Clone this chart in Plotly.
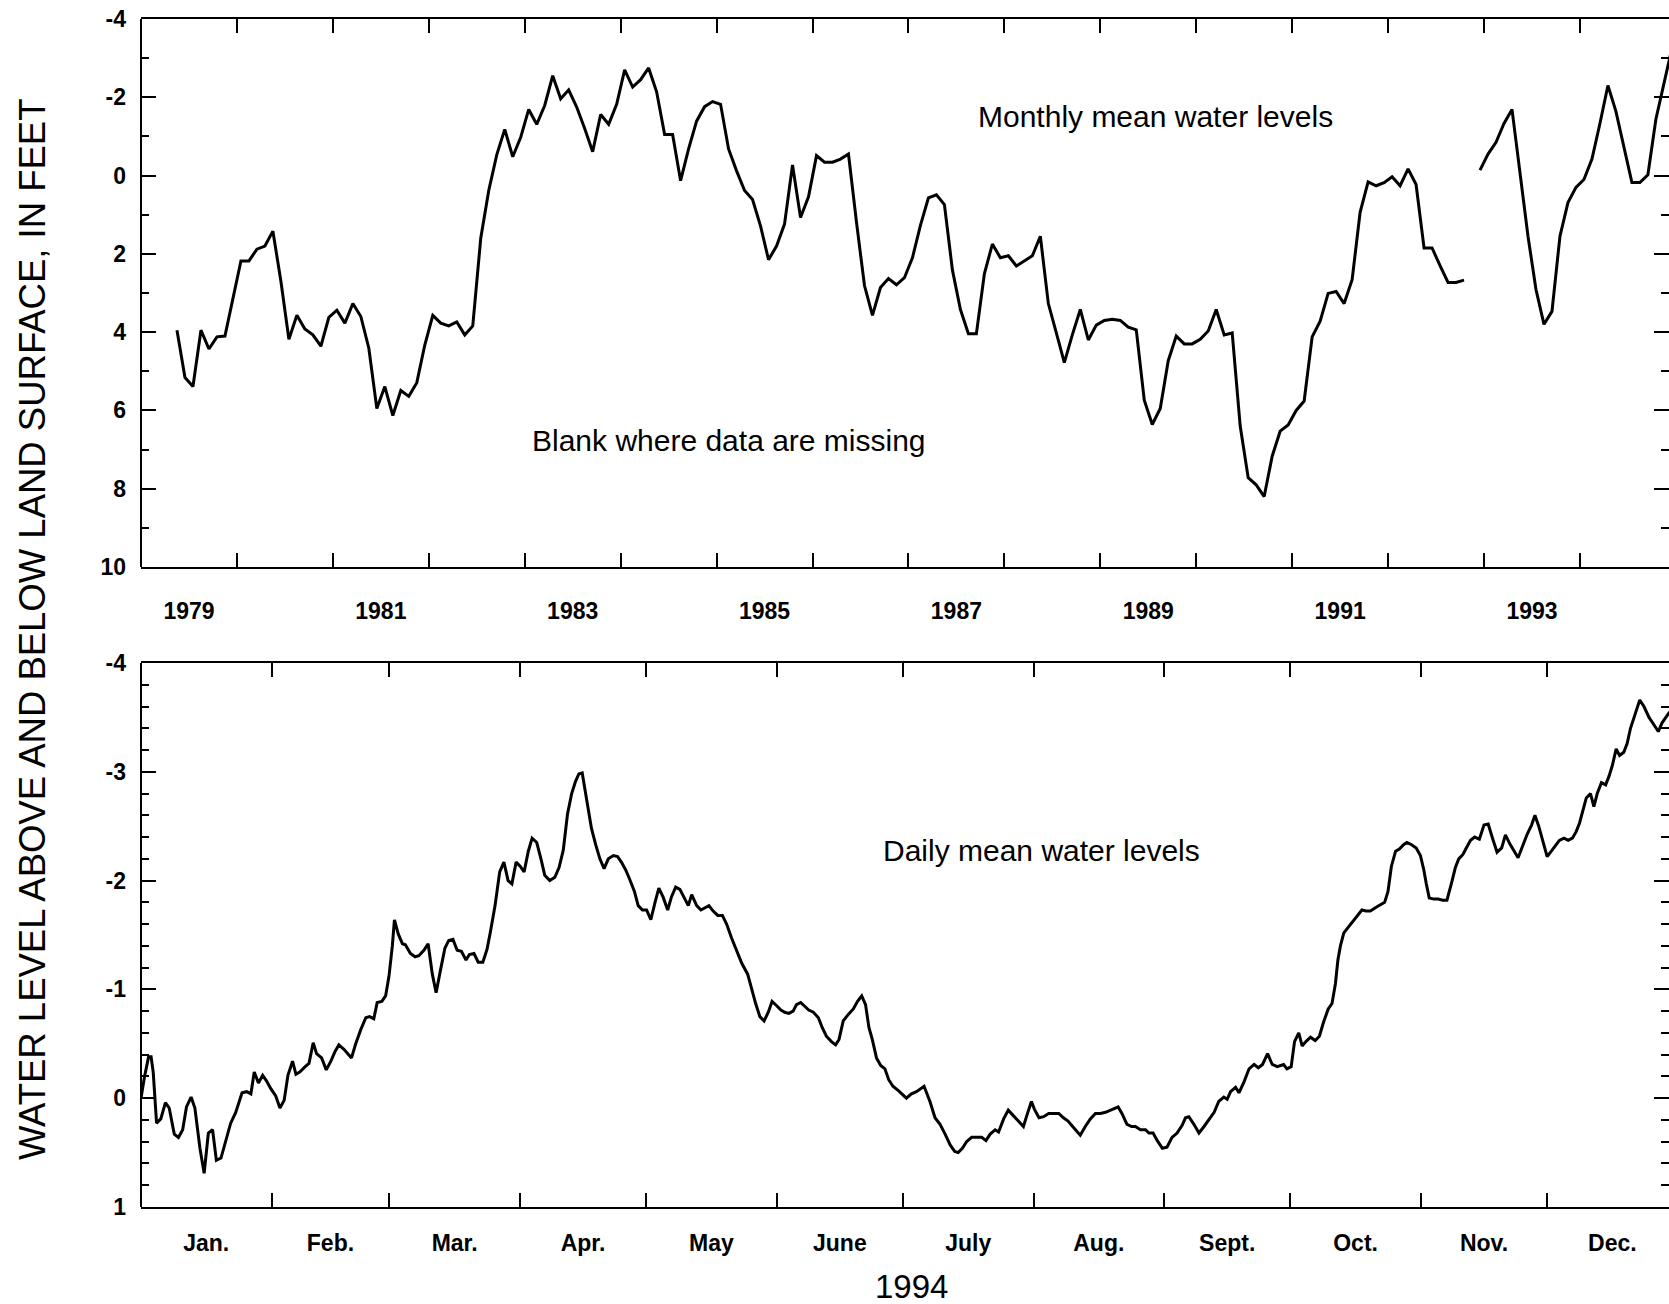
import numpy as np
import pandas as pd
import plotly.graph_objects as go

# ---------------------------------------------------------------------------
# Monthly mean water level, feet below (+) / above (-) land surface, 1979-1994
# One row per year, January..December; None where no record exists.
# ---------------------------------------------------------------------------
first_year = 1979
monthly_level = [
    None, None, None, None, 3.95, 5.16, 5.39, 3.95, 4.43, 4.12, 4.10, 3.10,        # 1979
    2.18, 2.18, 1.88, 1.80, 1.42, 2.70, 4.18, 3.57, 3.92, 4.07, 4.36, 3.62,        # 1980
    3.44, 3.77, 3.27, 3.60, 4.41, 5.95, 5.39, 6.13, 5.49, 5.64, 5.29, 4.33,        # 1981
    3.57, 3.77, 3.84, 3.74, 4.07, 3.84, 1.60, 0.38, -0.53, -1.18, -0.48, -0.98,    # 1982
    -1.69, -1.31, -1.79, -2.55, -1.96, -2.19, -1.75, -1.20, -0.61, -1.56, -1.31, -1.82,  # 1983
    -2.70, -2.26, -2.45, -2.75, -2.14, -1.05, -1.05, 0.13, -0.68, -1.39, -1.76, -1.89,   # 1984
    -1.82, -0.68, -0.12, 0.38, 0.61, 1.29, 2.15, 1.80, 1.24, -0.27, 1.07, 0.54,    # 1985
    -0.51, -0.34, -0.34, -0.42, -0.55, 1.19, 2.81, 3.57, 2.86, 2.63, 2.79, 2.61,   # 1986
    2.10, 1.27, 0.57, 0.49, 0.74, 2.41, 3.42, 4.04, 4.04, 2.51, 1.75, 2.10,        # 1987
    2.05, 2.31, 2.18, 2.05, 1.55, 3.27, 4.02, 4.78, 4.07, 3.42, 4.20, 3.82,        # 1988
    3.70, 3.67, 3.70, 3.87, 3.94, 5.74, 6.36, 5.95, 4.73, 4.10, 4.30, 4.30,        # 1989
    4.18, 3.97, 3.42, 4.07, 4.02, 6.40, 7.72, 7.90, 8.20, 7.17, 6.53, 6.37,        # 1990
    6.00, 5.76, 4.12, 3.72, 3.01, 2.96, 3.27, 2.66, 0.94, 0.16, 0.26, 0.18,        # 1991
    0.03, 0.26, -0.17, 0.23, 1.85, 1.85, 2.30, 2.73, 2.73, 2.67, None, -0.14,      # 1992
    -0.55, -0.85, -1.33, -1.69, -0.12, 1.55, 2.91, 3.80, 3.47, 1.55, 0.69, 0.30,   # 1993
    0.10, -0.42, -1.33, -2.30, -1.64, -0.73, 0.18, 0.18, -0.02, -1.44, -2.33, -3.25,  # 1994
]

# ---------------------------------------------------------------------------
# Daily mean water level during 1994 (day of year, feet)
# ---------------------------------------------------------------------------
daily_day = [
    0.5, 1.3, 2.3, 2.9, 3.4, 4.2, 5.2, 6.3, 7.2, 8.4, 9.4, 10.4, 11.3, 12.4, 13.3,
    14.5, 15.5, 16.5, 17.5, 18.4, 19.5, 20.7, 21.8, 23.0, 24.5, 25.6, 26.6, 27.4,
    28.4, 29.4, 30.3, 31.3, 32.5, 33.5, 34.5, 35.4, 36.5, 37.3, 38.2, 39.5, 40.4,
    41.4, 42.2, 43.4, 44.5, 45.6, 46.6, 47.5, 48.7, 50.5, 51.5, 52.7, 53.9, 54.8,
    55.8, 56.6, 57.7, 58.6, 59.4, 60.2, 60.7, 61.6, 62.6, 63.3, 64.5, 65.6, 66.5,
    67.7, 68.7, 69.7, 70.6, 71.6, 72.7, 73.6, 74.6, 75.6, 76.6, 77.7, 78.5, 79.6,
    80.6, 81.7, 82.7, 83.5, 84.6, 85.7, 86.7, 87.7, 88.6, 89.6, 90.6, 91.5, 92.5,
    93.4, 94.5, 95.5, 96.4, 97.6, 98.8, 99.8, 100.8, 101.8, 102.8, 103.7, 104.5,
    105.3, 105.9, 106.7, 107.5, 108.5, 109.5, 110.5, 111.5, 112.7, 113.7, 114.6,
    115.6, 116.6, 117.7, 118.6, 119.6, 120.6, 121.6, 122.6, 123.5, 124.5, 125.6,
    126.5, 127.5, 128.5, 129.5, 130.5, 131.3, 132.5, 133.5, 134.4, 135.4, 136.4,
    137.5, 138.6, 139.6, 140.8, 142.0, 143.2, 144.6, 145.5, 146.5, 147.5, 148.5,
    149.5, 150.4, 151.5, 152.5, 153.4, 154.4, 155.4, 156.2, 157.2, 158.2, 159.1,
    160.2, 161.4, 162.3, 163.3, 164.5, 165.5, 166.3, 167.3, 168.5, 169.7, 170.7,
    171.7, 172.6, 173.4, 174.2, 175.2, 176.2, 177.2, 178.1, 179.1, 180.4, 181.3,
    182.3, 183.5, 184.7, 186.5, 187.9, 189.1, 190.3, 191.5, 192.7, 193.8, 194.6,
    195.6, 196.6, 197.8, 199.0, 200.2, 201.2, 202.2, 203.4, 204.2, 205.4, 206.5,
    207.7, 208.9, 210.1, 210.9, 212.0, 212.7, 213.8, 214.9, 216.1, 217.3, 218.5,
    219.6, 220.7, 221.8, 222.8, 223.6, 224.8, 226.0, 227.2, 228.4, 229.6, 230.8,
    232.0, 232.6, 233.5, 234.7, 235.8, 236.7, 237.9, 239.1, 239.9, 240.9, 241.9,
    243.1, 244.2, 245.4, 246.6, 247.8, 248.6, 249.4, 250.6, 251.8, 253.0, 254.2,
    255.4, 256.5, 257.7, 258.5, 259.3, 260.5, 261.3, 262.5, 263.7, 264.9, 265.9,
    266.9, 268.1, 269.2, 270.4, 271.9, 272.7, 273.7, 274.5, 275.5, 276.3, 277.2,
    278.3, 279.4, 280.4, 281.4, 282.5, 283.4, 284.2, 284.8, 285.4, 286.2, 287.0,
    288.2, 289.3, 290.5, 291.5, 292.5, 293.7, 294.7, 295.9, 296.7, 297.5, 298.5,
    299.4, 300.4, 301.2, 302.3, 303.4, 304.4, 305.2, 305.8, 306.5, 307.6, 308.6,
    309.7, 310.7, 311.8, 312.7, 313.5, 314.5, 315.3, 316.3, 317.3, 318.4, 319.5,
    320.5, 321.6, 322.6, 323.7, 324.6, 325.6, 326.6, 327.6, 328.7, 329.8, 330.8,
    331.6, 332.5, 333.5, 334.5, 335.5, 336.5, 337.4, 338.5, 339.5, 340.5, 341.4,
    342.2, 343.0, 343.8, 344.8, 345.6, 346.4, 347.4, 348.4, 349.2, 350.0, 350.9,
    351.7, 352.7, 353.5, 354.3, 355.4, 356.5, 357.5, 358.7, 359.9, 360.9, 361.8,
    362.8, 363.6,
]
daily_level = [
    0.00, -0.19, -0.38, -0.38, -0.24, 0.23, 0.19, 0.04, 0.09, 0.33, 0.36, 0.29, 0.08, -0.01, 0.09,
    0.46, 0.69, 0.32, 0.29, 0.57, 0.55, 0.38, 0.23, 0.13, -0.05, -0.06, -0.04, -0.24,
    -0.14, -0.21, -0.16, -0.09, -0.02, 0.09, 0.02, -0.21, -0.34, -0.22, -0.24, -0.29, -0.32,
    -0.51, -0.41, -0.37, -0.26, -0.34, -0.43, -0.49, -0.45, -0.37, -0.50, -0.63, -0.74, -0.75,
    -0.73, -0.88, -0.89, -0.94, -1.12, -1.40, -1.64, -1.51, -1.42, -1.41, -1.33, -1.30, -1.31,
    -1.36, -1.42, -1.14, -0.97, -1.17, -1.38, -1.45, -1.46, -1.36, -1.35, -1.27, -1.32, -1.33,
    -1.25, -1.25, -1.37, -1.53, -1.77, -2.08, -2.17, -2.00, -1.97, -2.17, -2.13, -2.08, -2.27,
    -2.39, -2.35, -2.20, -2.05, -2.00, -2.03, -2.12, -2.28, -2.61, -2.80, -2.91, -2.98,
    -2.99, -2.86, -2.66, -2.48, -2.33, -2.20, -2.11, -2.20, -2.23, -2.22, -2.17,
    -2.10, -2.01, -1.90, -1.77, -1.73, -1.73, -1.64, -1.80, -1.93, -1.85, -1.73,
    -1.85, -1.94, -1.92, -1.85, -1.77, -1.87, -1.77, -1.73, -1.75, -1.77, -1.72,
    -1.68, -1.68, -1.60, -1.47, -1.35, -1.24, -1.14, -1.00, -0.87, -0.75, -0.71,
    -0.79, -0.89, -0.85, -0.81, -0.79, -0.78, -0.80, -0.86, -0.88, -0.84, -0.81,
    -0.79, -0.74, -0.65, -0.57, -0.52, -0.49, -0.54, -0.71, -0.77, -0.82, -0.89,
    -0.94, -0.86, -0.65, -0.54, -0.37, -0.30, -0.27, -0.17, -0.11, -0.07, -0.04,
    0.00, -0.04, -0.06, -0.11, 0.03, 0.18, 0.24, 0.33, 0.43, 0.49, 0.50,
    0.46, 0.40, 0.36, 0.36, 0.36, 0.39, 0.33, 0.29, 0.31, 0.19, 0.11,
    0.16, 0.21, 0.26, 0.16, 0.03, 0.10, 0.18, 0.17, 0.14, 0.14, 0.14,
    0.18, 0.21, 0.26, 0.31, 0.34, 0.26, 0.19, 0.14, 0.14, 0.13, 0.11,
    0.09, 0.08, 0.14, 0.24, 0.26, 0.26, 0.29, 0.29, 0.32, 0.32, 0.39,
    0.46, 0.45, 0.36, 0.32, 0.25, 0.18, 0.17, 0.24, 0.32, 0.26, 0.20,
    0.13, 0.03, -0.01, 0.01, -0.06, -0.10, -0.05, -0.15, -0.27, -0.31, -0.28,
    -0.31, -0.41, -0.31, -0.29, -0.31, -0.27, -0.29, -0.52, -0.60, -0.48, -0.52,
    -0.56, -0.53, -0.57, -0.70, -0.82, -0.87, -1.05, -1.27, -1.40, -1.52, -1.56,
    -1.61, -1.67, -1.73, -1.72, -1.72, -1.75, -1.77, -1.80, -1.90, -2.13, -2.27,
    -2.29, -2.33, -2.35, -2.33, -2.30, -2.23, -2.10, -1.97, -1.84, -1.83, -1.83,
    -1.82, -1.82, -1.98, -2.12, -2.20, -2.24, -2.30, -2.37, -2.40, -2.38, -2.51,
    -2.52, -2.38, -2.26, -2.30, -2.42, -2.34, -2.28, -2.21, -2.32, -2.43, -2.51,
    -2.60, -2.50, -2.36, -2.22, -2.27, -2.32, -2.37, -2.39, -2.37, -2.39, -2.45,
    -2.53, -2.66, -2.76, -2.80, -2.68, -2.80, -2.90, -2.88, -2.96, -3.06, -3.21,
    -3.15, -3.18, -3.26, -3.40, -3.53, -3.66, -3.60, -3.50, -3.43, -3.37, -3.45,
    -3.51, -3.55,
]

# Axis tick labels
year_labels = ["1979", "1981", "1983", "1985", "1987", "1989", "1991", "1993"]
month_labels = ["Jan.", "Feb.", "Mar.", "Apr.", "May", "June",
                "July", "Aug.", "Sept.", "Oct.", "Nov.", "Dec."]
top_y_ticks = [-4, -2, 0, 2, 4, 6, 8, 10]
bottom_y_ticks = [-4, -3, -2, -1, 0, 1]

# ---------------------------------------------------------------------------
# Page geometry (pixels)
# ---------------------------------------------------------------------------
W, H = 1669, 1304
LEFT = 141
PLOT_W = W - LEFT
PX_PER_YEAR = 95.93
PX_PER_DAY = 4.21
TOP_PANEL = (19, 567)      # top edge, bottom edge
BOT_PANEL = (663, 1207)


def ydom(panel):
    return [1 - panel[1] / H, 1 - panel[0] / H]


def px_x(px):
    return (px - LEFT) / PLOT_W


def px_y(py):
    return 1 - py / H


# monthly positions: middle of each month, in decimal years
n_months = len(monthly_level)
month_x = [first_year + (i + 0.5) / 12 for i in range(n_months)]

# daily positions: day n is centred on Jan 1 + (n - 0.5) days
jan1 = pd.Timestamp("1994-01-01")
daily_x = jan1 + pd.to_timedelta(np.array(daily_day) - 0.5, unit="D")

month_starts = pd.date_range("1994-01-01", periods=13, freq="MS")
month_mids = [month_starts[i] + (month_starts[i + 1] - month_starts[i]) / 2 for i in range(12)]

top_x_end = first_year + PLOT_W / PX_PER_YEAR
bot_x_end = jan1 + pd.to_timedelta(PLOT_W / PX_PER_DAY, unit="D")

FONT = "Liberation Sans, Arial, Helvetica, sans-serif"
tick_font = dict(family=FONT, size=23, color="black", weight="bold")

fig = go.Figure()

fig.add_trace(go.Scatter(
    x=month_x, y=monthly_level, mode="lines", connectgaps=False,
    line=dict(color="black", width=3), xaxis="x", yaxis="y", showlegend=False,
))
fig.add_trace(go.Scatter(
    x=daily_x, y=daily_level, mode="lines",
    line=dict(color="black", width=3), xaxis="x2", yaxis="y2", showlegend=False,
))

x_common = dict(
    showline=True, linecolor="black", linewidth=2, mirror="ticks", automargin=False,
    showgrid=False, zeroline=False, ticks="", tickfont=tick_font,
)
y_common = dict(
    showline=False, mirror="ticks", showgrid=False, zeroline=False, automargin=False,
    ticks="inside", ticklen=15, tickwidth=2, tickcolor="black",
    tickfont=tick_font, ticklabelstandoff=14,
)

fig.update_layout(
    width=W, height=H,
    margin=dict(l=LEFT, r=0, t=0, b=0, autoexpand=False),
    paper_bgcolor="white", plot_bgcolor="white",
    xaxis=dict(
        **x_common, domain=[0, 1], anchor="y", type="linear",
        range=[first_year, top_x_end],
        tickmode="array", tickvals=[int(y) + 0.5 for y in year_labels], ticktext=year_labels,
        ticklabelstandoff=22,
        minor=dict(ticks="inside", ticklen=14, tickwidth=2, tickcolor="black",
                   tick0=first_year, dtick=1, showgrid=False),
    ),
    yaxis=dict(
        **y_common, domain=ydom(TOP_PANEL), anchor="x",
        range=[10, -4], tickmode="array", tickvals=top_y_ticks,
        ticktext=[str(v) for v in top_y_ticks],
        minor=dict(ticks="inside", ticklen=8, tickwidth=2, tickcolor="black",
                   tick0=0, dtick=1, showgrid=False),
    ),
    xaxis2=dict(
        **x_common, domain=[0, 1], anchor="y2", type="date",
        range=[jan1, bot_x_end],
        tickmode="array", tickvals=month_mids, ticktext=month_labels,
        ticklabelstandoff=14,
        minor=dict(ticks="inside", ticklen=14, tickwidth=2, tickcolor="black",
                   tick0="1994-01-01", dtick="M1", showgrid=False),
    ),
    yaxis2=dict(
        **y_common, domain=ydom(BOT_PANEL), anchor="x2",
        range=[1, -4], tickmode="array", tickvals=bottom_y_ticks,
        ticktext=[str(v) for v in bottom_y_ticks],
        minor=dict(ticks="inside", ticklen=8, tickwidth=2, tickcolor="black",
                   tick0=0, dtick=0.2, showgrid=False),
    ),
)

# left frame edge of each panel
for panel in (TOP_PANEL, BOT_PANEL):
    fig.add_shape(type="line", xref="paper", yref="paper",
                  x0=0, x1=0, y0=px_y(panel[1]), y1=px_y(panel[0]),
                  line=dict(color="black", width=2))

text_font = dict(family=FONT, size=30, color="black")
notes = [
    ("Monthly mean water levels", 1155, 117),
    ("Blank where data are missing", 729, 440),
    ("Daily mean water levels", 1041, 851),
]
for txt, px, py in notes:
    fig.add_annotation(text=txt, xref="paper", yref="paper", x=px_x(px), y=px_y(py),
                       xanchor="center", yanchor="middle", showarrow=False, font=text_font)

fig.add_annotation(text="1994", xref="paper", yref="paper", x=px_x(911), y=px_y(1286),
                   xanchor="center", yanchor="middle", showarrow=False,
                   font=dict(family=FONT, size=33, color="black"))

fig.add_annotation(text="WATER LEVEL ABOVE AND BELOW LAND SURFACE, IN FEET",
                   xref="paper", yref="paper", x=px_x(32), y=px_y(630),
                   xanchor="center", yanchor="middle", textangle=-90, showarrow=False,
                   font=dict(family=FONT, size=36.5, color="black"))

fig.write_html("out.html")
